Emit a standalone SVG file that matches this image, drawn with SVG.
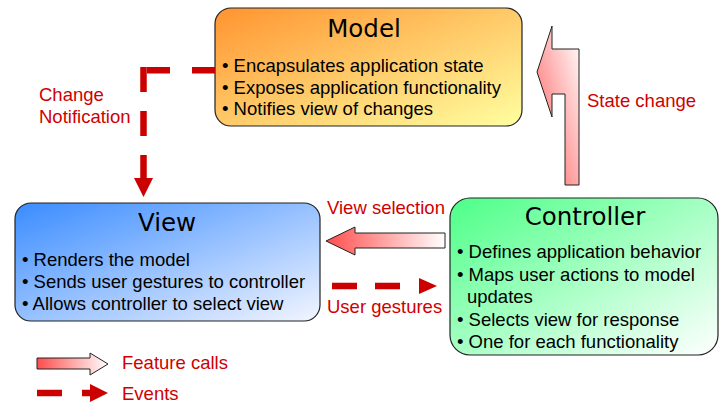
<svg xmlns="http://www.w3.org/2000/svg" width="719" height="404" viewBox="0 0 719 404">
<defs>
<linearGradient id="gModel" x1="0" y1="0" x2="1" y2="1"><stop offset="0" stop-color="#ff9430"/><stop offset="1" stop-color="#ffffa0"/></linearGradient>
<linearGradient id="gView" x1="0" y1="0" x2="1" y2="1"><stop offset="0" stop-color="#3a8cff"/><stop offset="1" stop-color="#f2f5ff"/></linearGradient>
<linearGradient id="gCtrl" x1="0" y1="0" x2="1" y2="1"><stop offset="0" stop-color="#4dff88"/><stop offset="1" stop-color="#ffffff"/></linearGradient>
<linearGradient id="gArrH" x1="0" y1="0" x2="1" y2="0"><stop offset="0" stop-color="#ff4d4d"/><stop offset="1" stop-color="#ffffff"/></linearGradient>
<linearGradient id="gArrV" x1="0" y1="1" x2="1" y2="0"><stop offset="0" stop-color="#ff5a5a"/><stop offset="1" stop-color="#ffffff"/></linearGradient>
</defs>
<style>
.box{stroke:#222;stroke-width:1.2}
.title{font-family:"DejaVu Sans",sans-serif;font-size:24.5px;fill:#000;text-anchor:middle}
.txt{font-family:"Liberation Sans",Arial,sans-serif;font-size:18.5px;fill:#000}
.lbl{font-family:"Liberation Sans",Arial,sans-serif;font-size:18.5px;fill:#d00000}
.dash{stroke:#cc0000;stroke-width:6.5;fill:none}
.head{fill:#cc0000}
.blk{stroke:#222;stroke-width:1}
</style>

<g id="model">
<rect class="box" x="215" y="8" width="307" height="118" rx="16" fill="url(#gModel)"/>
<text class="title" x="364" y="37">Model</text>
<text class="txt" x="222" y="72">• Encapsulates application state</text>
<text class="txt" x="222" y="94">• Exposes application functionality</text>
<text class="txt" x="222" y="115">• Notifies view of changes</text>
</g>

<g id="view">
<rect class="box" x="15" y="203" width="305" height="118" rx="16" fill="url(#gView)"/>
<text class="title" x="167" y="231">View</text>
<text class="txt" x="22" y="266">• Renders the model</text>
<text class="txt" x="22" y="288">• Sends user gestures to controller</text>
<text class="txt" x="22" y="310">• Allows controller to select view</text>
</g>

<g id="controller">
<rect class="box" x="450" y="198" width="268" height="157" rx="20" fill="url(#gCtrl)"/>
<text class="title" x="585" y="225">Controller</text>
<text class="txt" x="457" y="258">• Defines application behavior</text>
<text class="txt" x="457" y="281">• Maps user actions to model</text>
<text class="txt" x="467" y="303">updates</text>
<text class="txt" x="457" y="326">• Selects view for response</text>
<text class="txt" x="457" y="348">• One for each functionality</text>
</g>

<g id="connectors">
<line class="dash" x1="215" y1="70.3" x2="140" y2="70.3" stroke-dasharray="23 22"/>
<line class="dash" x1="143.5" y1="67" x2="143.5" y2="179" stroke-dasharray="25 19"/>
<polygon class="head" points="134,178 153,178 143.5,197"/>
<polygon class="blk" fill="url(#gArrV)" points="552,26 537,72 552,117 552,94 565,94 565,185 579,185 579,49 552,49"/>
<polygon class="blk" fill="url(#gArrH)" points="326,241 355,227 355,233 445,233 445,248 355,248 355,255"/>
<line class="dash" x1="332" y1="286" x2="400" y2="286" stroke-dasharray="25 18" stroke-width="6"/>
<polygon class="head" points="419,278 437,286 419,294"/>
</g>

<g id="labels">
<text class="lbl" x="39" y="101">Change</text>
<text class="lbl" x="39" y="123">Notification</text>
<text class="lbl" x="587" y="107">State change</text>
<text class="lbl" x="327" y="214">View selection</text>
<text class="lbl" x="327" y="313">User gestures</text>
</g>

<g id="legend">
<polygon class="blk" fill="url(#gArrH)" points="37,358 90,358 90,353 108,364 90,375 90,369 37,369"/>
<text class="lbl" x="122" y="369">Feature calls</text>
<line class="dash" x1="37" y1="393" x2="62" y2="393" stroke-width="6"/>
<line class="dash" x1="82" y1="393" x2="92" y2="393" stroke-width="6"/>
<polygon class="head" points="90,384 108,393 90,402"/>
<text class="lbl" x="122" y="400">Events</text>
</g>
</svg>
